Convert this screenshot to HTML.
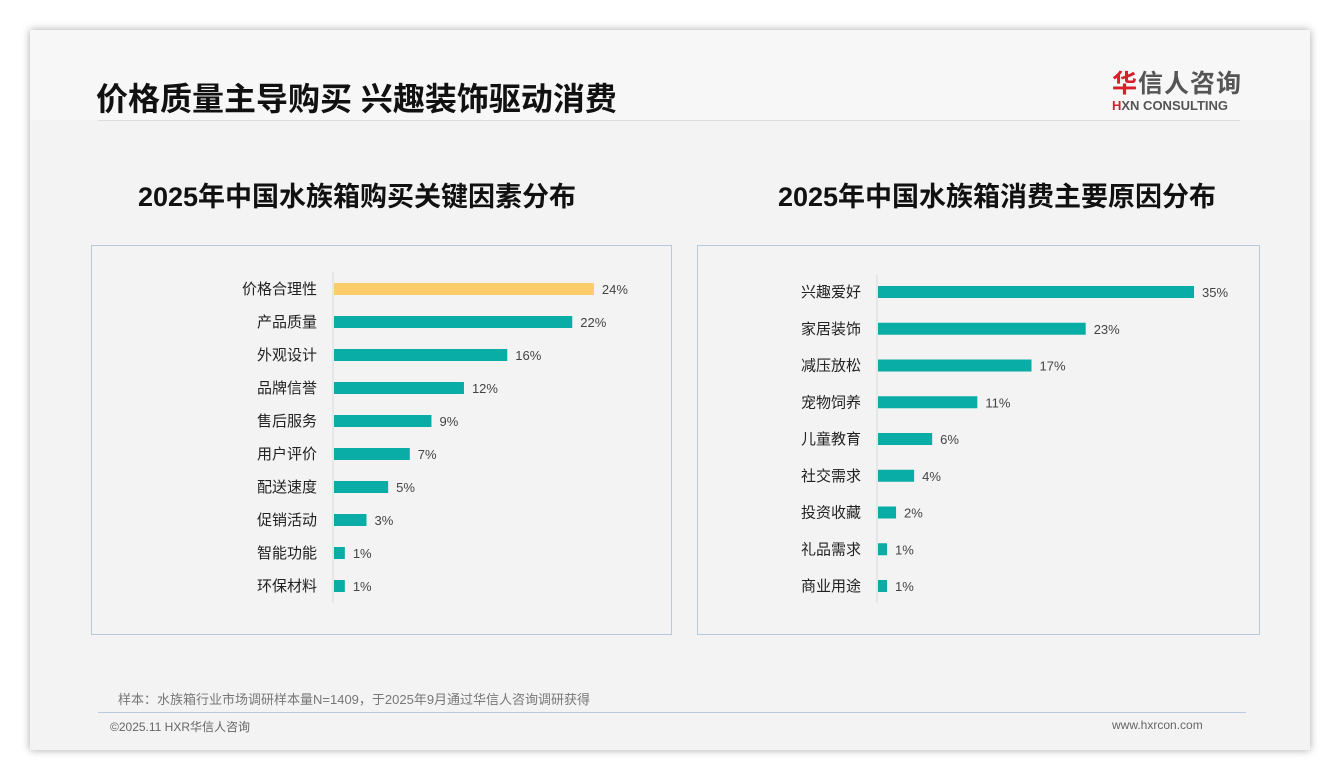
<!DOCTYPE html>
<html><head><meta charset="utf-8"><style>
body{margin:0;width:1340px;height:780px;background:#fff;font-family:"Liberation Sans","Noto Sans CJK SC",sans-serif;overflow:hidden}
#card{position:absolute;left:30px;top:30px;width:1280px;height:720px;background:#f3f3f3;box-shadow:0 0 8px rgba(0,0,0,.35)}
.abs{position:absolute}
.panel{position:absolute;border:1px solid #b9c9dd;background:#f3f3f3}
.ct{position:absolute;font-weight:bold;font-size:27px;color:#111;text-align:center;white-space:nowrap}
</style></head><body>
<div id="card">
<div class="abs" style="left:0;top:0;width:1280px;height:90px;background:#f7f7f7"></div>
<div class="abs" style="left:66px;top:44px;font-size:32px;font-weight:bold;color:#111">价格质量主导购买 兴趣装饰驱动消费</div>
<div class="abs" style="left:68px;top:90px;width:1142px;height:1px;background:#dcdcdc"></div>
<div class="abs" style="left:1082px;top:34px;">
<div style="font-size:25px;font-weight:bold;color:#555;letter-spacing:1px"><span style="color:#d6202a">华</span>信人咨询</div>
<div style="font-size:13px;font-weight:bold;color:#555;margin-top:-2px"><span style="color:#d6202a">H</span>XN CONSULTING</div>
</div>
<div class="ct" style="left:37px;top:145px;width:580px">2025年中国水族箱购买关键因素分布</div>
<div class="ct" style="left:685px;top:145px;width:564px">2025年中国水族箱消费主要原因分布</div>
<div class="panel" style="left:61px;top:215px;width:579px;height:388px"></div>
<div class="panel" style="left:667px;top:215px;width:561px;height:388px"></div>
<div class="abs" style="left:88px;top:659px;font-size:13px;color:#777">样本：水族箱行业市场调研样本量N=1409，于2025年9月通过华信人咨询调研获得</div>
<div class="abs" style="left:68px;top:682px;width:1148px;height:1px;background:#b9c9dd"></div>
<div class="abs" style="left:80px;top:688px;font-size:12px;color:#666">©2025.11 HXR华信人咨询</div>
<div class="abs" style="left:1082px;top:688px;font-size:12px;color:#666">www.hxrcon.com</div>
</div>
<svg id="chart" class="abs" style="left:0;top:0" width="1340" height="780"></svg>
<script>
const leftCats=["价格合理性","产品质量","外观设计","品牌信誉","售后服务","用户评价","配送速度","促销活动","智能功能","环保材料"];
const leftVals=[24,22,16,12,9,7,5,3,1,1];
const rightCats=["兴趣爱好","家居装饰","减压放松","宠物饲养","儿童教育","社交需求","投资收藏","礼品需求","商业用途"];
const rightVals=[35,23,17,11,6,4,2,1,1];
const NS="http://www.w3.org/2000/svg";
const svg=document.getElementById('chart');
function el(t,a){const e=document.createElementNS(NS,t);for(const k in a)e.setAttribute(k,a[k]);svg.appendChild(e);return e;}
function draw(cats,vals,x0,y0,step,scale,prefix,hl){
  const ax=el('line',{x1:x0,x2:x0,y1:y0-17,y2:y0+step*(cats.length-1)+17,stroke:'#d9d9d9','stroke-width':1});
  
  
  cats.forEach((c,i)=>{
    const y=y0+i*step, w=vals[i]*scale;
    const r=el('rect',{x:x0+1,y:y-6,width:w,height:12,fill:i===hl?'#fdcd6a':'#0aada5'});
    
    
    const t=el('text',{x:x0-16,y:y+5,'text-anchor':'end','font-size':15,fill:'#222','font-family':'Liberation Sans, Noto Sans CJK SC, sans-serif'});
    t.textContent=c;
    
    
    const v=el('text',{x:x0+w+9,y:y+5,'font-size':13,fill:'#444','font-family':'Liberation Sans, sans-serif'});
    v.textContent=vals[i]+'%';
    
    
  });
}
draw(leftCats,leftVals,333,289,33.0,10.83,'left',0);
draw(rightCats,rightVals,877,292,36.75,9.03,'right',-1);
</script>
</body></html>
